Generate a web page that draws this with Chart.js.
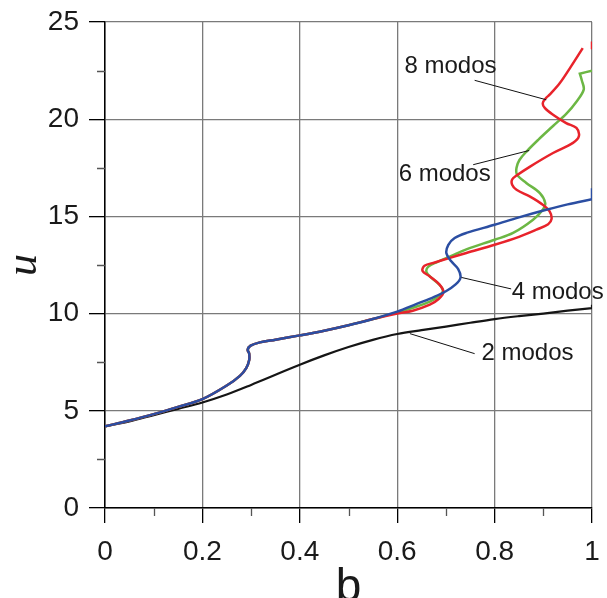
<!DOCTYPE html>
<html>
<head>
<meta charset="utf-8">
<script src="https://cdn.jsdelivr.net/npm/chart.js@4.4.1/dist/chart.umd.min.js"></script>
<style>
  html, body { margin: 0; padding: 0; background: #ffffff; }
  canvas { display: block; }
</style>
</head>
<body>
<canvas id="chart" width="607" height="598"></canvas>
<script>
// Dispersion curves u(b) for 2, 4, 6 and 8 modes.
// The 4/6/8-mode curves share the same low-b branch.
const sharedB = [0, 0.05, 0.1, 0.15, 0.2, 0.25, 0.277, 0.29, 0.296, 0.296, 0.293, 0.299, 0.318, 0.35, 0.4, 0.45, 0.5, 0.55];
const sharedU = [4.2, 4.5, 4.83, 5.2, 5.6, 6.3, 6.8, 7.2, 7.6, 7.95, 8.14, 8.35, 8.52, 8.66, 8.88, 9.12, 9.4, 9.72];

const blueB = [0.6, 0.64, 0.675, 0.7, 0.72, 0.73, 0.725, 0.711, 0.701, 0.705, 0.718, 0.742, 0.8, 0.85, 0.906, 0.95, 1.0, 1.0, 1.0];
const blueU = [10.1, 10.5, 10.85, 11.15, 11.5, 11.85, 12.3, 12.69, 13.1, 13.54, 13.89, 14.15, 14.57, 14.95, 15.34, 15.62, 15.88, 15.88, 16.45];

const greenB = [0.6, 0.632, 0.667, 0.688, 0.694, 0.686, 0.67, 0.66, 0.664, 0.682, 0.71, 0.742, 0.8, 0.838, 0.879, 0.899, 0.904, 0.893, 0.865, 0.846, 0.845, 0.851, 0.866, 0.89, 0.92, 0.948, 0.968, 0.983, 0.979, 0.975, 0.975, 1.0];
const greenU = [10.05, 10.3, 10.62, 10.95, 11.2, 11.5, 11.85, 12.15, 12.42, 12.65, 12.95, 13.3, 13.8, 14.15, 14.83, 15.34, 15.68, 16.2, 16.72, 17.15, 17.5, 17.9, 18.35, 18.95, 19.65, 20.3, 20.9, 21.52, 22.0, 22.34, 22.34, 22.5];

const redB = [0.6, 0.632, 0.667, 0.685, 0.695, 0.687, 0.667, 0.652, 0.656, 0.677, 0.71, 0.742, 0.8, 0.85, 0.886, 0.91, 0.917, 0.913, 0.899, 0.872, 0.845, 0.836, 0.836, 0.845, 0.872, 0.92, 0.961, 0.973, 0.968, 0.947, 0.92, 0.903, 0.899, 0.906, 0.913, 0.934, 0.957, 0.981, null, 1.0, 1.0];
const redU = [10.0, 10.15, 10.46, 10.75, 11.1, 11.49, 11.91, 12.2, 12.46, 12.63, 12.88, 13.12, 13.54, 13.95, 14.32, 14.6, 14.87, 15.26, 15.6, 16.03, 16.37, 16.63, 16.9, 17.1, 17.55, 18.26, 18.78, 19.12, 19.55, 19.8, 20.23, 20.58, 20.83, 21.1, 21.26, 21.86, 22.72, 23.66, null, 23.6, 24.0];

const blackB = [0, 0.05, 0.1, 0.15, 0.2, 0.25, 0.3, 0.35, 0.4, 0.45, 0.5, 0.55, 0.6, 0.65, 0.7, 0.75, 0.8, 0.85, 0.9, 0.95, 1.0, 1.0, 1.0];
const blackU = [4.2, 4.45, 4.78, 5.1, 5.43, 5.84, 6.33, 6.85, 7.37, 7.85, 8.28, 8.65, 8.95, 9.15, 9.33, 9.53, 9.72, 9.87, 10.0, 10.15, 10.28, 10.28, 10.45];

// Axis ticks
const xTicks = [0, 0.2, 0.4, 0.6, 0.8, 1];
const yTicks = [0, 5, 10, 15, 20, 25];

// Curve labels with their leader lines (data coordinates)
const curveNotes = [
  { text: '8 modos', at: [0.615, 22.72], from: [0.759, 22.0], to: [0.906, 21.0] },
  { text: '6 modos', at: [0.603, 17.15], from: [0.756, 17.66], to: [0.871, 18.39] },
  { text: '4 modos', at: [0.835, 11.08], from: [0.834, 11.27], to: [0.732, 11.86] },
  { text: '2 modos', at: [0.773, 7.94], from: [0.759, 7.94], to: [0.626, 8.97] }
];

function toPoints(bs, us) {
  return bs.map((b, i) => (b === null ? { x: NaN, y: null } : { x: b, y: us[i] }));
}

const sansFont = "'Liberation Sans', Arial, Helvetica, sans-serif";

const datasets = [
  { label: '4 modos', data: toPoints(sharedB.concat(blueB), sharedU.concat(blueU)), borderColor: '#2b4ea2', borderWidth: 2.5 },
  { label: '8 modos', data: toPoints(sharedB.concat(redB), sharedU.concat(redU)), borderColor: '#e8232b', borderWidth: 2.5 },
  { label: '6 modos', data: toPoints(sharedB.concat(greenB), sharedU.concat(greenU)), borderColor: '#6cb744', borderWidth: 2.5 },
  { label: '2 modos', data: toPoints(blackB, blackU), borderColor: '#151515', borderWidth: 2.2 }
].map(d => Object.assign(d, {
  showLine: true, pointRadius: 0, tension: 0.35, fill: false, spanGaps: false
}));

// Short minor tick marks half-way between the labelled ticks
const minorTicks = {
  id: 'minorTicks',
  afterDraw(chart) {
    const { ctx, scales: { x, y }, chartArea } = chart;
    ctx.save();
    ctx.strokeStyle = '#555';
    ctx.lineWidth = 1.3;
    ctx.beginPath();
    for (let i = 0; i < yTicks.length - 1; i++) {
      const py = Math.round(y.getPixelForValue((yTicks[i] + yTicks[i + 1]) / 2)) + 0.5;
      ctx.moveTo(chartArea.left - 8, py);
      ctx.lineTo(chartArea.left, py);
    }
    for (let i = 0; i < xTicks.length - 1; i++) {
      const px = Math.round(x.getPixelForValue((xTicks[i] + xTicks[i + 1]) / 2)) + 0.5;
      ctx.moveTo(px, chartArea.bottom);
      ctx.lineTo(px, chartArea.bottom + 8);
    }
    ctx.stroke();
    ctx.restore();
  }
};

// Curve names and their pointer lines
const curveLabels = {
  id: 'curveLabels',
  afterDatasetsDraw(chart) {
    const { ctx, scales: { x, y } } = chart;
    ctx.save();
    ctx.strokeStyle = '#111';
    ctx.lineWidth = 1;
    ctx.fillStyle = '#1a1a1a';
    ctx.font = '24px ' + sansFont;
    ctx.textAlign = 'left';
    ctx.textBaseline = 'middle';
    curveNotes.forEach(n => {
      ctx.beginPath();
      ctx.moveTo(x.getPixelForValue(n.from[0]), y.getPixelForValue(n.from[1]));
      ctx.lineTo(x.getPixelForValue(n.to[0]), y.getPixelForValue(n.to[1]));
      ctx.stroke();
      ctx.fillText(n.text, x.getPixelForValue(n.at[0]), y.getPixelForValue(n.at[1]));
    });
    ctx.restore();
  }
};

new Chart(document.getElementById('chart'), {
  type: 'scatter',
  data: { datasets },
  options: {
    responsive: false,
    animation: false,
    events: [],
    layout: { padding: { left: 0, top: 22, right: 15, bottom: 0 } },
    plugins: { legend: { display: false }, tooltip: { enabled: false } },
    scales: {
      x: {
        type: 'linear', min: 0, max: 1,
        afterFit(scale) {
          scale.height = 90;
          scale.paddingLeft = 0;
          scale.paddingRight = 0;
        },
        afterBuildTicks(scale) { scale.ticks = xTicks.map(v => ({ value: v })); },
        ticks: {
          color: '#1a1a1a', padding: 12, maxRotation: 0, autoSkip: false,
          font: { family: sansFont, size: 28 },
          callback: v => (v === 0 || v === 1) ? String(v) : v.toFixed(1)
        },
        grid: { color: '#7a7a7a', lineWidth: 1.3, tickLength: 15, tickColor: '#000', tickWidth: 1.3 },
        border: { color: '#000', width: 1.5 },
        title: {
          display: true, text: 'b', color: '#1a1a1a',
          font: { family: sansFont, size: 46, lineHeight: 1 },
          padding: { top: 0, bottom: -13 }
        }
      },
      y: {
        type: 'linear', min: 0, max: 25,
        afterFit(scale) {
          scale.width = 105;
          scale.paddingTop = 0;
          scale.paddingBottom = 0;
        },
        afterBuildTicks(scale) { scale.ticks = yTicks.map(v => ({ value: v })); },
        ticks: {
          color: '#1a1a1a', padding: 10, autoSkip: false,
          font: { family: sansFont, size: 28 },
          callback: v => String(v)
        },
        grid: { color: '#7a7a7a', lineWidth: 1.3, tickLength: 16, tickColor: '#000', tickWidth: 1.3 },
        border: { color: '#000', width: 1.5 },
        title: {
          display: true, text: 'u', color: '#1a1a1a',
          font: { family: "'Liberation Serif', 'Times New Roman', serif", size: 44, style: 'italic', lineHeight: 1 },
          padding: { top: 2, bottom: 0 }
        }
      }
    }
  },
  plugins: [minorTicks, curveLabels]
});
</script>
</body>
</html>
